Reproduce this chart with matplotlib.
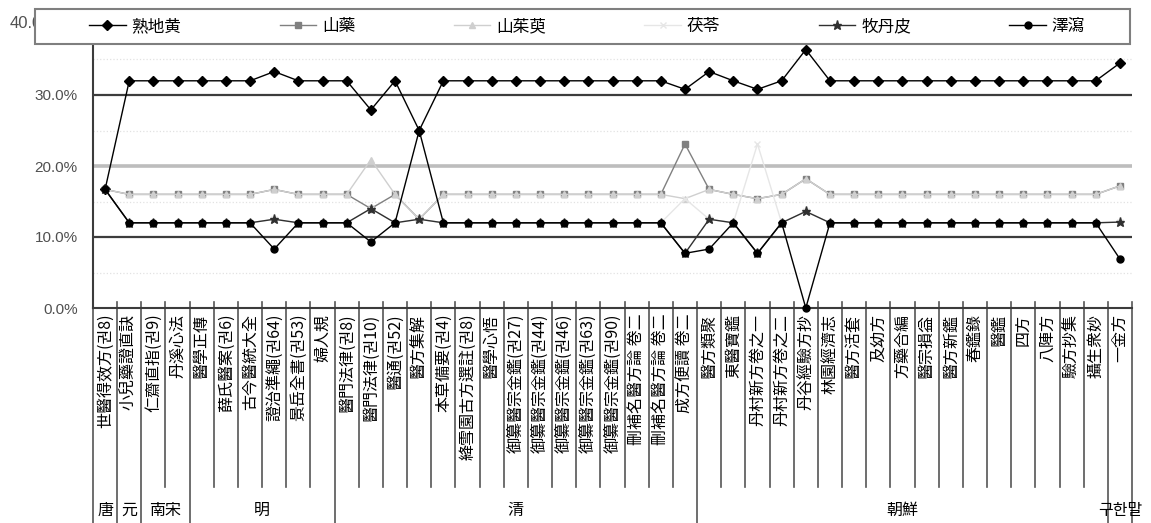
import numpy as np
import matplotlib.pyplot as plt
from matplotlib.patches import Rectangle
from matplotlib.transforms import blended_transform_factory

plt.rcParams['font.family'] = ['Noto Sans CJK KR', 'DejaVu Sans']

# 처방서 (x축 항목)
books = ['世醫得效方(권8)', '小兒藥證直訣', '仁齋直指(권9)', '丹溪心法', '醫學正傳',
         '薛氏醫案(권6)', '古今醫統大全', '證治準繩(권64)', '景岳全書(권53)', '婦人規',
         '醫門法律(권8)', '醫門法律(권10)', '醫通(권52)', '醫方集解', '本草備要(권4)',
         '絳雪園古方選註(권8)', '醫學心悟', '御纂醫宗金鑑(권27)', '御纂醫宗金鑑(권44)',
         '御纂醫宗金鑑(권46)', '御纂醫宗金鑑(권63)', '御纂醫宗金鑑(권90)',
         '刪補名醫方論 卷二', '刪補名醫方論 卷二', '成方便讀 卷二',
         '醫方類聚', '東醫寶鑑', '丹村新方卷之一', '丹村新方卷之二', '丹谷經驗方抄',
         '林園經濟志', '醫方活套', '及幼方', '方藥合編', '醫宗損益', '醫方新鑑',
         '春鑑錄', '醫鑑', '四方', '八陣方', '驗方抄集', '攝生衆妙', '一金方']

# 시대 구분
eras = ['唐', '元', '南宋', '明', '清', '朝鮮', '구한말']
era_sizes = [1, 1, 2, 6, 15, 17, 1]

# 약재별 비율 (%)
sukjihwang = [16.7, 32.0, 32.0, 32.0, 32.0, 32.0, 32.0, 33.3, 32.0, 32.0,
              32.0, 27.9, 32.0, 25.0, 32.0, 32.0, 32.0, 32.0, 32.0, 32.0,
              32.0, 32.0, 32.0, 32.0, 30.8, 33.3, 32.0, 30.8, 32.0, 36.4,
              32.0, 32.0, 32.0, 32.0, 32.0, 32.0, 32.0, 32.0, 32.0, 32.0,
              32.0, 32.0, 34.5]
sanyak = [16.7, 16.0, 16.0, 16.0, 16.0, 16.0, 16.0, 16.7, 16.0, 16.0,
          16.0, 14.0, 16.0, 12.5, 16.0, 16.0, 16.0, 16.0, 16.0, 16.0,
          16.0, 16.0, 16.0, 16.0, 23.1, 16.7, 16.0, 15.4, 16.0, 18.2,
          16.0, 16.0, 16.0, 16.0, 16.0, 16.0, 16.0, 16.0, 16.0, 16.0,
          16.0, 16.0, 17.2]
sansuyu = [16.7, 16.0, 16.0, 16.0, 16.0, 16.0, 16.0, 16.7, 16.0, 16.0,
           16.0, 20.9, 16.0, 12.5, 16.0, 16.0, 16.0, 16.0, 16.0, 16.0,
           16.0, 16.0, 16.0, 16.0, 15.4, 16.7, 16.0, 15.4, 16.0, 18.2,
           16.0, 16.0, 16.0, 16.0, 16.0, 16.0, 16.0, 16.0, 16.0, 16.0,
           16.0, 16.0, 17.2]
bokryeong = [16.7, 12.0, 12.0, 12.0, 12.0, 12.0, 12.0, 12.5, 12.0, 12.0,
             12.0, 14.0, 12.0, 12.5, 12.0, 12.0, 12.0, 12.0, 12.0, 12.0,
             12.0, 12.0, 12.0, 12.0, 15.4, 12.5, 12.0, 23.1, 12.0, 13.6,
             12.0, 12.0, 12.0, 12.0, 12.0, 12.0, 12.0, 12.0, 12.0, 12.0,
             12.0, 12.0, 12.1]
moktanpi = [16.7, 12.0, 12.0, 12.0, 12.0, 12.0, 12.0, 12.5, 12.0, 12.0,
            12.0, 14.0, 12.0, 12.5, 12.0, 12.0, 12.0, 12.0, 12.0, 12.0,
            12.0, 12.0, 12.0, 12.0, 7.7, 12.5, 12.0, 7.7, 12.0, 13.6,
            12.0, 12.0, 12.0, 12.0, 12.0, 12.0, 12.0, 12.0, 12.0, 12.0,
            12.0, 12.0, 12.1]
taeksa = [16.7, 12.0, 12.0, 12.0, 12.0, 12.0, 12.0, 8.3, 12.0, 12.0,
          12.0, 9.3, 12.0, 25.0, 12.0, 12.0, 12.0, 12.0, 12.0, 12.0,
          12.0, 12.0, 12.0, 12.0, 7.7, 8.3, 12.0, 7.7, 12.0, 0.0,
          12.0, 12.0, 12.0, 12.0, 12.0, 12.0, 12.0, 12.0, 12.0, 12.0,
          12.0, 12.0, 6.9]

W, H = 1151, 523
fig = plt.figure(figsize=(W / 100, H / 100), dpi=100)
ax = fig.add_axes([93 / W, 1 - 308 / H, 1039 / W, 284 / H])

x = np.arange(len(books)) + 0.5

# 계열: (값, 이름, 색, 마커, 크기)
series = [
    (sukjihwang, '熟地黄', 'black', 'D', 5),
    (sanyak, '山藥', '#808080', 's', 4.5),
    (sansuyu, '山茱萸', '#cfcfcf', '^', 5),
    (bokryeong, '茯苓', '#e6e6e6', 'x', 5),
    (moktanpi, '牧丹皮', '#303030', '*', 6.5),
    (taeksa, '澤瀉', 'black', 'o', 5),
]
handles = []
for i, (vals, name, col, mk, ms) in enumerate(series):
    ln, = ax.plot(x, vals, color=col, marker=mk, markersize=ms, lw=1.0,
                  markerfacecolor=col, markeredgecolor=col, label=name,
                  zorder=3 + i, clip_on=False)
    handles.append(ln)

# 눈금선
ax.axhline(10, color='#3c3c3c', lw=1.6, zorder=1)
ax.axhline(20, color='#bdbdbd', lw=2.6, zorder=1)
ax.axhline(30, color='#3c3c3c', lw=1.6, zorder=1)
ax.set_yticks([5, 15, 25, 35], minor=True)
ax.grid(which='minor', axis='y', color='#e2e2e2', ls=':', lw=0.9)

ax.set_xlim(0, len(books))
ax.set_ylim(0, 40)
ax.set_yticks([0, 10, 20, 30])
ax.set_yticklabels(['0.0%', '10.0%', '20.0%', '30.0%'],
                   fontfamily='Liberation Sans', fontsize=11, color='#505050')
ax.tick_params(axis='y', which='both', length=0, pad=11)
fig.text(10 / W, 1 - 23 / H, '40.0%', fontfamily='Liberation Sans',
         fontsize=12, color='#505050', va='center', ha='left')

ax.set_xticks(x)
ax.set_xticklabels(books, rotation=90, fontsize=11.5)
ax.tick_params(axis='x', length=0, pad=4)

for s in ['top', 'right']:
    ax.spines[s].set_visible(False)
for s in ['left', 'bottom']:
    ax.spines[s].set_color('#3c3c3c')
    ax.spines[s].set_linewidth(1.5)

# 항목 구분선, 시대 구분선
tr = blended_transform_factory(ax.transData, ax.transAxes)
bounds = np.cumsum([0] + era_sizes)
y_top = (308 - 302) / 284
y_cat = (308 - 487) / 284
y_era = (308 - 523) / 284
for k in range(len(books) + 1):
    low = y_era if k in bounds else y_cat
    ax.plot([k, k], [y_top, low], transform=tr, color='#555555', lw=1.2,
            clip_on=False, zorder=2)

for name, a, b in zip(eras, bounds[:-1], bounds[1:]):
    ax.text((a + b) / 2, (308 - 510) / 284, name, transform=tr,
            ha='center', va='center', fontsize=11.5)

# 범례
fig.add_artist(Rectangle((35 / W, 1 - 44 / H), 1095 / W, 35 / H,
                         transform=fig.transFigure, facecolor='white',
                         edgecolor='#7f7f7f', lw=1.5, zorder=4))
leg = fig.legend(handles=handles, loc='center', ncol=6, frameon=False,
                 bbox_to_anchor=(587 / W, 1 - 26.5 / H), fontsize=12,
                 handlelength=2.2, handletextpad=0.35, columnspacing=5.9)
leg.set_zorder(6)

fig.savefig('out.png', dpi=100)
